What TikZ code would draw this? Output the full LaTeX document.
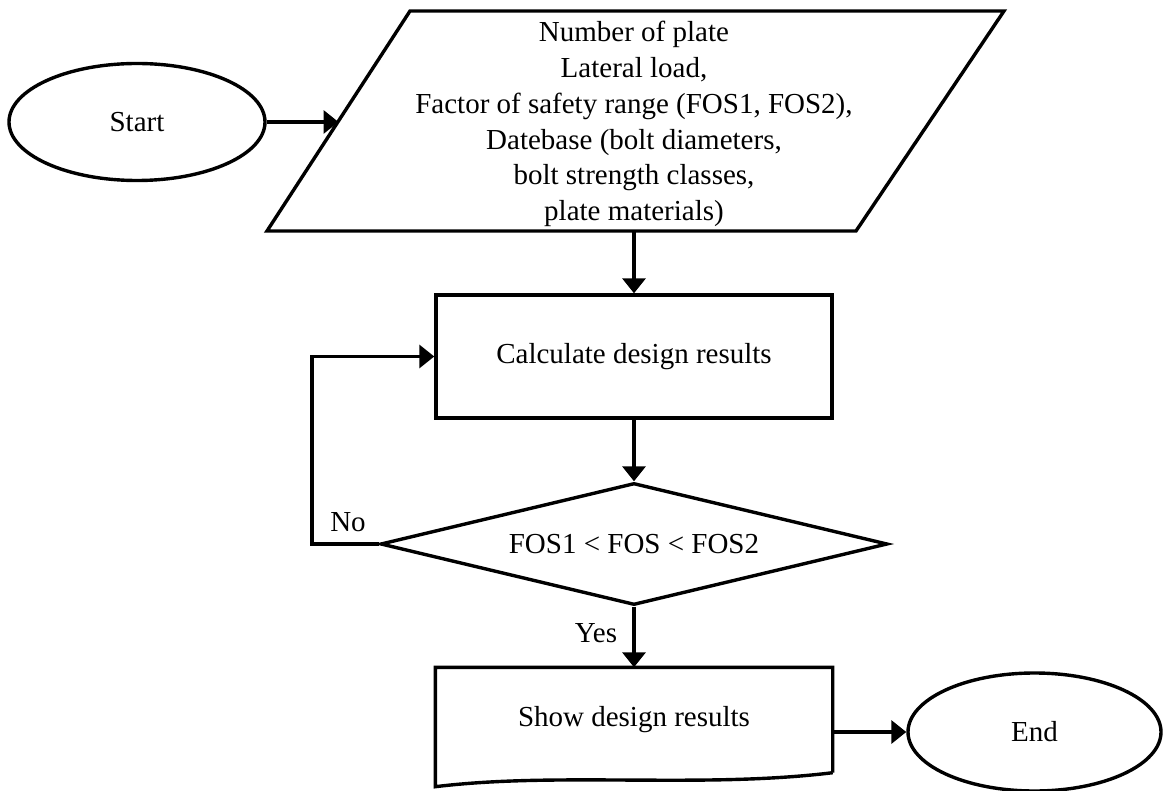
\documentclass[tikz,border=0pt]{standalone}
\usepackage{fontspec}
\setmainfont{Liberation Serif}
\usetikzlibrary{shapes.geometric,arrows.meta,calc}
\begin{document}
\begin{tikzpicture}[x=1pt,y=-1pt,line width=3.4pt,
  every node/.style={font=\fontsize{29}{35.8}\selectfont, inner sep=0pt},
  term/.style={ellipse, draw, minimum width=256pt, minimum height=117pt},
  proc/.style={rectangle, draw, minimum width=396pt, minimum height=123pt},
  arr/.style={-{Triangle[length=15pt,width=23pt]}}]
\useasboundingbox (0,0) rectangle (1164,791);
% Start
\node[term] (start) at (137,122) {Start};
% Input parallelogram
\coordinate (pTL) at (410,11);
\coordinate (pTR) at (1004,11);
\coordinate (pBR) at (856,231);
\coordinate (pBL) at (267,231);
\draw (pTL) -- (pTR) -- (pBR) -- (pBL) -- cycle;
\coordinate (inL) at ($(pBL)!0.5!(pTL)$);
\node[align=center] (input) at (634,124) {Number of plate\\Lateral load,\\Factor of safety range (FOS1, FOS2),\\Datebase (bolt diameters,\\bolt strength classes,\\plate materials)};
% Calculate
\node[proc] (calc) at (634,356.5) {Calculate design results};
% Decision
\node[diamond, draw, aspect=4, minimum width=507pt, minimum height=122pt] (dec) at (634,544) {FOS1 < FOS < FOS2};
% Show (document shape)
\node[minimum width=394pt, minimum height=102pt] (show) at (634,720) {Show design results};
\draw (show.south east) -- (show.north east) -- (show.north west) -- ([yshift=-14pt]show.south west)
  .. controls ++(123,-15) and ($(show.south east)+(-131,16)$) .. (show.south east);
% End
\node[term, minimum width=253pt, minimum height=118pt] (end) at (1034.5,732) {End};
% Connectors
\draw[arr] (start.east) -- (start.east -| inL);
\draw[arr] (calc.north |- pBL) -- (calc.north);
\draw[arr] (calc.south) -- (dec.north);
\draw[arr] (dec.south) -- (show.north);
\draw[arr] (dec.west) -- ++(-67,0) |- (calc.west);
\draw[arr] (show.east |- end.west) -- (end.west);
% Labels
\node (nolbl) at (348,522) {No};
\node (yeslbl) at (596,633) {Yes};
\end{tikzpicture}
\end{document}
